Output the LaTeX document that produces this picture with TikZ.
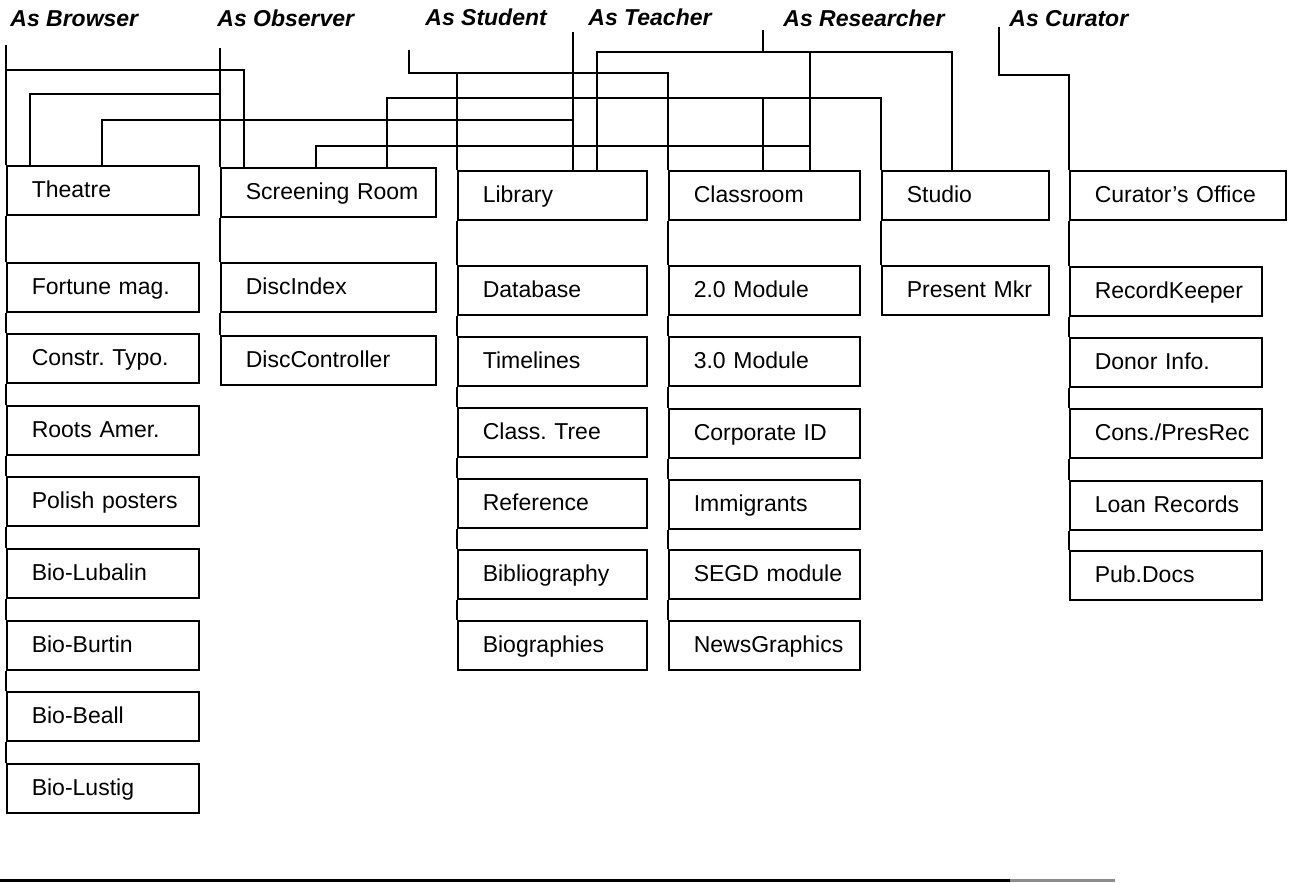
\documentclass[tikz,border=0pt]{standalone}
\usepackage{fontspec}
\setmainfont{Liberation Sans}
\frenchspacing
\tikzstyle{room}=[draw,line width=0.8pt,anchor=north west,minimum height=24.5pt,inner xsep=12.5pt,inner ysep=0pt,text height=9pt,text depth=1.5pt,align=left,font=\fontsize{11.5}{13}\selectfont]
\tikzstyle{role}=[anchor=base west,inner sep=0pt,font=\fontsize{11.5}{13}\selectfont\bfseries\itshape]
\tikzstyle{link}=[draw,line width=0.8pt]

\begin{document}
\begin{tikzpicture}[x=0.5pt,y=-0.5pt]
\useasboundingbox (0,0) rectangle (1298,883);

% First the roles along the top
\foreach \pos/\name/\txt in {{(10,27)/browser/As Browser}, {(217,27)/observer/As Observer}, {(425,26)/student/As Student}, {(588,26)/teacher/As Teacher}, {(783,27)/researcher/As Researcher}, {(1009,27)/curator/As Curator}}
\node[role] (\name) at \pos {\txt};

\coordinate (brTop) at (6,45);
\coordinate (obTop) at (220,48);
\coordinate (stTop) at (409,50);
\coordinate (teTop) at (573,32);
\coordinate (reTop) at (763,30);
\coordinate (cuTop) at (999,27);

% Then the rooms and what is in them, column by column
\foreach \y/\name/\txt in {165/theatre/Theatre, 262/fortune/Fortune mag., 333/constr/Constr. Typo., 405/roots/Roots Amer., 476/polish/Polish posters, 548/lubalin/Bio-Lubalin, 620/burtin/Bio-Burtin, 691/beall/Bio-Beall, 763/lustig/Bio-Lustig}
\node[room,text width=71pt] (\name) at (6,\y) {\mbox{\txt}};

\foreach \y/\name/\txt in {167/screen/Screening Room, 262/discindex/DiscIndex, 335/disccontrol/DiscController}
\node[room,text width=82.5pt] (\name) at (220,\y) {\mbox{\txt}};

\foreach \y/\name/\txt in {170/library/Library, 265/database/Database, 336/timelines/Timelines, 407/classtree/Class. Tree, 478/reference/Reference, 549/biblio/Bibliography, 620/bios/Biographies}
\node[room,text width=69.5pt] (\name) at (457,\y) {\mbox{\txt}};

\foreach \y/\name/\txt in {170/classroom/Classroom, 265/modtwo/2.0 Module, 336/modthree/3.0 Module, 408/corporate/Corporate ID, 479/immigrants/Immigrants, 549/segd/SEGD module, 620/newsgfx/NewsGraphics}
\node[room,text width=70.5pt] (\name) at (668,\y) {\mbox{\txt}};

\foreach \y/\name/\txt in {170/studio/Studio, 265/presentmkr/Present Mkr}
\node[room,text width=58.5pt] (\name) at (881,\y) {\mbox{\txt}};

\node[room,text width=83pt] (office) at (1069,170) {\mbox{Curator's Office}};
\foreach \y/\name/\txt in {266/recordkeeper/RecordKeeper, 337/donor/Donor Info., 408/cons/{Cons./PresRec}, 480/loans/Loan Records, 550/pubdocs/Pub.Docs}
\node[room,text width=71pt] (\name) at (1069,\y) {\mbox{\txt}};

% Spines down each column
\foreach \source/\dest in {theatre/fortune, fortune/constr, constr/roots, roots/polish, polish/lubalin, lubalin/burtin, burtin/beall, beall/lustig, screen/discindex, discindex/disccontrol, library/database, database/timelines, timelines/classtree, classtree/reference, reference/biblio, biblio/bios, classroom/modtwo, modtwo/modthree, modthree/corporate, corporate/immigrants, immigrants/segd, segd/newsgfx, studio/presentmkr, office/recordkeeper, recordkeeper/donor, donor/cons, cons/loans, loans/pubdocs}
\path[link] (\source.south west) -- (\dest.north west);

% Browser
\path[link] (brTop) -- (theatre.north west);
\path[link] (brTop |- 0,70) -| ([xshift=12pt]screen.north west);

% Observer
\path[link] (obTop) -- (screen.north west);
\path[link] (obTop |- 0,94) -| ([xshift=12pt]theatre.north west);

% Student
\path[link] (stTop) |- ([yshift=48.5pt]classroom.north west) -- (classroom.north west);
\path[link] (library.north west) -- ++(0,48.5pt);

% Teacher
\path[link] (teTop) -- ([xshift=58pt]library.north west);
\path[link] (teTop |- 0,120) -| ([xshift=48pt]theatre.north west);
\path[link] ([xshift=83.5pt]screen.north west) |- (studio.north west |- 0,98) -- (studio.north west);
\path[link] ([xshift=47.5pt]classroom.north west |- 0,98) -- ([xshift=47.5pt]classroom.north west);

% Researcher
\path[link] (reTop) -- (reTop |- 0,52);
\path[link] ([xshift=70pt]library.north west) |- ([xshift=35.5pt]studio.north west |- 0,52) -- ([xshift=35.5pt]studio.north west);
\path[link] ([xshift=71pt]classroom.north west) -- ++(0,59pt);
\path[link] ([xshift=71pt]classroom.north west |- 0,146) -| ([xshift=48pt]screen.north west);

% Curator
\path[link] (cuTop) |- ([yshift=47.5pt]office.north west) -- (office.north west);

% rule at the foot of the page
\draw[line width=1.5pt] (0,880) -- (1010,880);
\draw[line width=1.5pt,black!45] (1010,880) -- (1115,880);
\end{tikzpicture}
\end{document}
